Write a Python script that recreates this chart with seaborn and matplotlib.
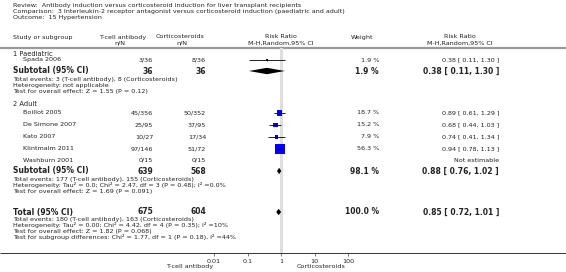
import numpy as np
import pandas as pd
import matplotlib
matplotlib.use("Agg")
import matplotlib.pyplot as plt
import seaborn as sns

sns.set_theme(style="white")
plt.rcParams['font.family'] = ['DejaVu Sans']

# ---------------- data ----------------
title_lines = [
    "Review:  Antibody induction versus corticosteroid induction for liver transplant recipients",
    "Comparison:  3 Interleukin-2 receptor antagonist versus corticosteroid induction (paediatric and adult)",
    "Outcome:  15 Hypertension",
]
studies = ["Spada 2006", "Boillot 2005", "De Simone 2007", "Kato 2007", "Klintmalm 2011", "Washburn 2001"]
groups = [1, 2, 2, 2, 2, 2]
tcell_events = [3, 45, 25, 10, 97, 0]
tcell_n = [36, 356, 95, 27, 146, 15]
cort_events = [8, 50, 37, 17, 51, 0]
cort_n = [36, 352, 95, 34, 72, 15]
rr = [0.38, 0.89, 0.68, 0.74, 0.94, np.nan]
rr_lo = [0.11, 0.61, 0.44, 0.41, 0.78, np.nan]
rr_hi = [1.30, 1.29, 1.03, 1.34, 1.13, np.nan]
weights = [1.9, 18.7, 15.2, 7.9, 56.3, np.nan]
ci_text = ["0.38 [ 0.11, 1.30 ]", "0.89 [ 0.61, 1.29 ]", "0.68 [ 0.44, 1.03 ]",
           "0.74 [ 0.41, 1.34 ]", "0.94 [ 0.78, 1.13 ]", "Not estimable"]

group_names = ["1 Paediatric", "2 Adult"]
sub_n_tcell = [36, 639]
sub_n_cort = [36, 568]
sub_weight = [1.9, 98.1]
sub_rr = [0.38, 0.88]
sub_lo = [0.11, 0.76]
sub_hi = [1.30, 1.02]
sub_ci_text = ["0.38 [ 0.11, 1.30 ]", "0.88 [ 0.76, 1.02 ]"]
sub_notes = [
    ["Total events: 3 (T-cell antibody), 8 (Corticosteroids)",
     "Heterogeneity: not applicable",
     "Test for overall effect: Z = 1.55 (P = 0.12)"],
    ["Total events: 177 (T-cell antibody), 155 (Corticosteroids)",
     "Heterogeneity: Tau\u00b2 = 0.0; Chi\u00b2 = 2.47, df = 3 (P = 0.48); I\u00b2 =0.0%",
     "Test for overall effect: Z = 1.69 (P = 0.091)"],
]
tot_n_tcell = 675
tot_n_cort = 604
tot_rr, tot_lo, tot_hi = 0.85, 0.72, 1.01
tot_ci_text = "0.85 [ 0.72, 1.01 ]"
tot_notes = [
    "Total events: 180 (T-cell antibody), 163 (Corticosteroids)",
    "Heterogeneity: Tau\u00b2 = 0.00; Chi\u00b2 = 4.42, df = 4 (P = 0.35); I\u00b2 =10%",
    "Test for overall effect: Z = 1.82 (P = 0.068)",
    "Test for subgroup differences: Chi\u00b2 = 1.77, df = 1 (P = 0.18), I\u00b2 =44%",
]
ticks = [0.01, 0.1, 1, 10, 100]
tick_labels = ["0.01", "0.1", "1", "10", "100"]

# ---------------- layout (pixel rows) ----------------
W, H = 566, 272
title_y = [6, 12, 18]
head_y1, head_y2, head_line = 37, 43, 48
group_y = [54, 104]
study_y = [60, 113, 125, 137, 149, 160]
sub_y = [71, 171]
note_dy = [8, 14, 20]
tot_y = 212
tot_note_y = [219, 225, 231, 237]
axis_y = 253
x_left, x_name = 13, 23
x_tc, x_co = 153, 206
x_w, x_ci = 379, 499
fx0, fx1 = 214, 348  # pixel positions of 0.01 and 100

fs = 4.6
fs_b = 5.5
txt = "#222222"

fig = plt.figure(figsize=(W / 100, H / 100), dpi=100)
ax = fig.add_axes([0, 0, 1, 1])
ax.set_xlim(0, W)
ax.set_ylim(H, 0)
ax.axis("off")

# forest axes
axf = fig.add_axes([fx0 / W, (H - axis_y) / H, (fx1 - fx0) / W, (axis_y - head_line) / H])
axf.set_xscale("log")
axf.patch.set_alpha(0)

df = pd.DataFrame({"rr": rr, "lo": rr_lo, "hi": rr_hi, "w": weights, "y": study_y})
df = df.dropna()
side_px = 1.27 * np.sqrt(df["w"].values)
sizes = (side_px * 0.72) ** 2
sns.scatterplot(data=df, x="rr", y="y", marker="s", s=sizes, color="#0000ff",
                edgecolor="none", linewidth=0, ax=axf, zorder=3, legend=False)
axf.hlines(df["y"], df["lo"], df["hi"], color="black", lw=0.6, zorder=4)
axf.vlines(df["rr"], df["y"] - 1.2, df["y"] + 1.2, color="black", lw=0.5, zorder=4)

axf.set_xlim(0.01, 100)
axf.set_ylim(axis_y, head_line)
axf.set_xlabel("")
axf.set_ylabel("")
for s in ["top", "right", "left", "bottom"]:
    axf.spines[s].set_visible(False)
axf.set_yticks([])
axf.set_xticks(ticks)
axf.set_xticklabels(tick_labels, fontsize=4.6, color=txt)
axf.minorticks_off()
axf.tick_params(axis="x", length=2, width=0.5, pad=2.0, bottom=True, color="#444444")

# titles
for t, y in zip(title_lines, title_y):
    ax.text(x_left, y, t, fontsize=fs, va="center", ha="left", color=txt)

# headers
ax.text(x_left, head_y1, "Study or subgroup", fontsize=fs, va="center", color=txt)
ax.text(123, head_y1, "T-cell antibody", fontsize=fs, va="center", ha="center", color=txt)
ax.text(120, head_y2, "n/N", fontsize=fs, va="center", ha="center", color=txt)
ax.text(180, head_y1, "Corticosteroids", fontsize=fs, va="center", ha="center", color=txt)
ax.text(182, head_y2, "n/N", fontsize=fs, va="center", ha="center", color=txt)
ax.text(281, head_y1, "Risk Ratio", fontsize=fs, va="center", ha="center", color=txt)
ax.text(281, head_y2, "M-H,Random,95% CI", fontsize=fs, va="center", ha="center", color=txt)
ax.text(362, head_y1, "Weight", fontsize=fs, va="center", ha="center", color=txt)
ax.text(460, head_y1, "Risk Ratio", fontsize=fs, va="center", ha="center", color=txt)
ax.text(460, head_y2, "M-H,Random,95% CI", fontsize=fs, va="center", ha="center", color=txt)
ax.plot([0, W], [head_line, head_line], color="#9a9a9a", lw=1.6, solid_capstyle="butt")
ax.plot([0, W], [axis_y, axis_y], color="#333333", lw=0.7, solid_capstyle="butt")

# reference line at 1
axf.plot([1, 1], [head_line, axis_y], color="#dedede", lw=2.2, zorder=0)

# study rows
for i, name in enumerate(studies):
    y = study_y[i]
    ax.text(x_name, y, name, fontsize=fs, va="center", color=txt)
    ax.text(x_tc, y, f"{tcell_events[i]}/{tcell_n[i]}", fontsize=fs, va="center", ha="right", color=txt)
    ax.text(x_co, y, f"{cort_events[i]}/{cort_n[i]}", fontsize=fs, va="center", ha="right", color=txt)
    if not np.isnan(weights[i]):
        ax.text(x_w, y, f"{weights[i]:.1f} %", fontsize=fs, va="center", ha="right", color=txt)
    ax.text(x_ci, y, ci_text[i], fontsize=fs, va="center", ha="right", color=txt)

# group headers, subtotals
for g in range(2):
    ax.text(x_left, group_y[g], group_names[g], fontsize=fs + 0.3, va="center", color=txt)
    y = sub_y[g]
    ax.text(x_left, y, "Subtotal (95% CI)", fontsize=fs_b, fontweight="bold", va="center", color=txt)
    ax.text(x_tc, y, f"{sub_n_tcell[g]}", fontsize=fs_b, fontweight="bold", va="center", ha="right", color=txt)
    ax.text(x_co, y, f"{sub_n_cort[g]}", fontsize=fs_b, fontweight="bold", va="center", ha="right", color=txt)
    ax.text(x_w, y, f"{sub_weight[g]:.1f} %", fontsize=fs_b, fontweight="bold", va="center", ha="right", color=txt)
    ax.text(x_ci, y, sub_ci_text[g], fontsize=fs_b, fontweight="bold", va="center", ha="right", color=txt)
    for line, dy in zip(sub_notes[g], note_dy):
        ax.text(x_left, y + dy, line, fontsize=fs, va="center", color=txt)
    axf.fill([sub_lo[g], sub_rr[g], sub_hi[g], sub_rr[g]], [y, y - 3.2, y, y + 3.2],
             color="black", lw=0, zorder=4)

# total
ax.text(x_left, tot_y, "Total (95% CI)", fontsize=fs_b, fontweight="bold", va="center", color=txt)
ax.text(x_tc, tot_y, f"{tot_n_tcell}", fontsize=fs_b, fontweight="bold", va="center", ha="right", color=txt)
ax.text(x_co, tot_y, f"{tot_n_cort}", fontsize=fs_b, fontweight="bold", va="center", ha="right", color=txt)
ax.text(x_w, tot_y, "100.0 %", fontsize=fs_b, fontweight="bold", va="center", ha="right", color=txt)
ax.text(x_ci, tot_y, tot_ci_text, fontsize=fs_b, fontweight="bold", va="center", ha="right", color=txt)
for line, y in zip(tot_notes, tot_note_y):
    ax.text(x_left, y, line, fontsize=fs, va="center", color=txt)
axf.fill([tot_lo, tot_rr, tot_hi, tot_rr], [tot_y, tot_y - 3.2, tot_y, tot_y + 3.2],
         color="black", lw=0, zorder=4)

# axis captions
ax.text(190, 266.5, "T-cell antibody", fontsize=fs, va="center", ha="center", color=txt)
ax.text(321, 266.5, "Corticosteroids", fontsize=fs, va="center", ha="center", color=txt)

fig.savefig("out.png", dpi=100)
